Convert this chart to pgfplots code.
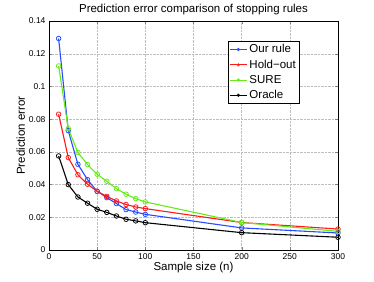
\documentclass[border=0pt]{standalone}
\usepackage{pgfplots}
\pgfplotsset{compat=1.18}
\usepackage{fontspec}
\setmainfont{Liberation Sans}
\definecolor{mblue}{rgb}{0.15,0.3,1}
\definecolor{mred}{rgb}{1,0.1,0.1}
\definecolor{mgreen}{rgb}{0.4,0.92,0.1}
\begin{document}
\begin{tikzpicture}
\path[use as bounding box] (-49pt,-31pt) rectangle (325pt,250pt);
\begin{axis}[
  at={(0,0)}, anchor=south west,
  scale only axis, width=289pt, height=229pt,
  xmin=0, xmax=300, ymin=0, ymax=0.14,
  xtick={0,50,...,300}, ytick={0,0.02,0.04,0.06,0.08,0.1,0.12,0.14},
  yticklabel style={/pgf/number format/fixed,/pgf/number format/precision=2},
  /pgf/number format/assume math mode=true,
  tick label style={font=\fontsize{8.5}{10}\selectfont},
  tick align=inside, tick pos=both,
  major tick length=3pt,
  grid=major, grid style={densely dotted, gray!50},
  title={Prediction error comparison of stopping rules},
  title style={font=\fontsize{11.5}{13}\selectfont, yshift=-3pt},
  xlabel={Sample size (n)}, ylabel={Prediction error},
  label style={font=\fontsize{11.5}{13}\selectfont},
  xlabel style={yshift=4pt}, ylabel style={yshift=-3pt},
  legend style={at={(0.618,0.913)}, anchor=north west, font=\fontsize{11.5}{13}\selectfont, draw=black, inner sep=1.5pt, row sep=1.5pt, cells={anchor=west}},
  legend image post style={mark size=1.2pt},
  every axis plot/.append style={line width=1.1pt, mark=o, mark size=2.3pt, mark options={line width=0.75pt, fill=none}},
]
\addplot[mblue] coordinates {(10,0.1293) (20,0.0730) (30,0.0524) (40,0.0430) (50,0.0359) (60,0.0320) (70,0.0284) (80,0.0247) (90,0.0232) (100,0.0218) (200,0.0135) (300,0.0104)};
\addplot[mred] coordinates {(10,0.0830) (20,0.0565) (30,0.0460) (40,0.0402) (50,0.0359) (60,0.0328) (70,0.0300) (80,0.0278) (90,0.0263) (100,0.0253) (200,0.0168) (300,0.0128)};
\addplot[mgreen] coordinates {(10,0.1125) (20,0.0742) (30,0.0596) (40,0.0522) (50,0.0463) (60,0.0420) (70,0.0375) (80,0.0341) (90,0.0314) (100,0.0294) (200,0.0168) (300,0.0114)};
\addplot[black] coordinates {(10,0.0575) (20,0.0400) (30,0.0324) (40,0.0286) (50,0.0249) (60,0.0230) (70,0.0208) (80,0.0188) (90,0.0178) (100,0.0167) (200,0.0106) (300,0.0078)};
\legend{Our rule, Hold\textminus out, SURE, Oracle}
\end{axis}
\end{tikzpicture}
\end{document}
